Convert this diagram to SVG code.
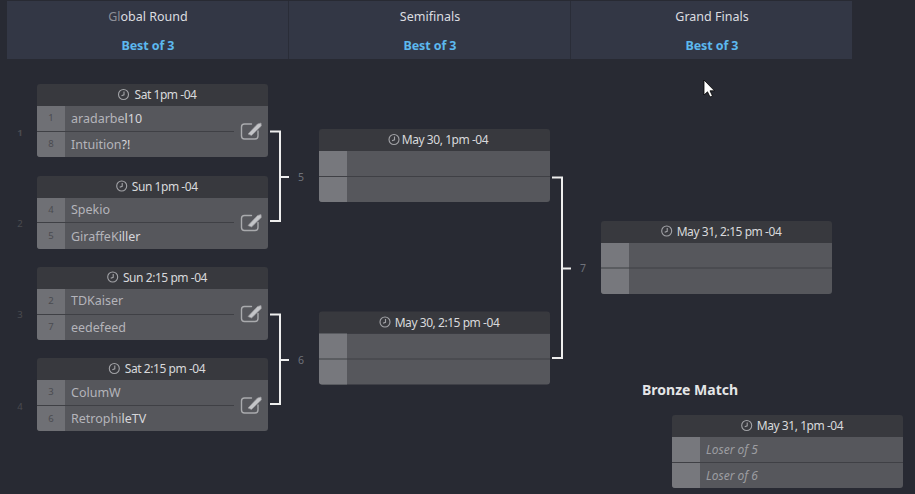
<svg xmlns="http://www.w3.org/2000/svg" width="915" height="494" viewBox="0 0 915 494">
<style>
text{font-family:"Noto Sans","Open Sans","Liberation Sans",sans-serif}
.rt{font-size:12.5px;fill:#dcdde0;text-anchor:middle}
.bo{font-size:12.5px;font-weight:700;fill:#5cb8ee;text-anchor:middle;letter-spacing:-.1px}
.ht{font-size:12px;fill:#d8d9dc;text-anchor:middle;letter-spacing:-.45px}
.nm{font-size:12.5px;fill:#d6d6da}
.fade{fill:#b4b4ba}
.sd{font-size:9.5px;fill:#4a4b50;text-anchor:middle}
.ml{font-size:10.5px;fill:#6f727a;text-anchor:middle}
.ls{font-size:12px;font-style:italic;fill:#9c9da1}
.hd{fill:#38393e}.bd{fill:#56575c}.sb{fill:#6f7075}.sb2{fill:#77787d}.ln{stroke:#3f4045;stroke-width:1.2;fill:none}
.con{stroke:#eeeeee;stroke-width:2;fill:none}
.ck{fill:none;stroke:#a2a3a7;stroke-width:1.1}
.ed{fill:none;stroke:#a9aaad;stroke-width:1.4;stroke-linecap:round;stroke-linejoin:round}
</style>
<defs>
<g id="clock"><circle r="5" class="ck"/><path d="M0.500-3V0.300L-2 1.300" class="ck"/></g>
<g id="edit"><path d="M11 2.500H4Q1 2.500 1 5.500V14.500Q1 17.500 4 17.500H14.500Q17.500 17.500 17.500 14.500V9.500" class="ed"/><path d="M7.500 12.500L17 2.500L20.500 1.500L20.800 4.500L11 14Z" fill="#c4c5c8" stroke="#96979b" stroke-width="0.700" stroke-linejoin="round"/></g>
<g id="card">
<path class="bd" d="M0 22H231V70a3 3 0 0 1-3 3H3a3 3 0 0 1-3-3Z"/>
<path class="hd" d="M3 0H228a3 3 0 0 1 3 3V22H0V3a3 3 0 0 1 3-3Z"/>
</g>
<path id="side" class="sb" d="M0 22H28V73H3a3 3 0 0 1-3-3Z"/>
<path id="side2" class="sb2" d="M0 22H28V73H3a3 3 0 0 1-3-3Z"/>
</defs>
<rect width="915" height="494" fill="#282a33"/>

<g id="round-header">
<rect x="7" y="1" width="845" height="58" fill="#333745"/>
<path d="M288.500 1V59M570.500 1V59" stroke="#2a2d38" stroke-width="1"/>
<text class="rt" x="148" y="21"><tspan fill="#8d8f98">Gl</tspan>obal Round</text><text class="bo" x="148" y="50">Best of 3</text>
<text class="rt" x="430" y="21">Semifinals</text><text class="bo" x="430" y="50">Best of 3</text>
<text class="rt" x="712" y="21">Grand Finals</text><text class="bo" x="712" y="50">Best of 3</text>
</g>

<g id="connectors">
<path class="con" d="M270 131.500H280V221H270M280 177H289"/>
<path class="con" d="M270 314.500H280V404H270M280 360H289"/>
<path class="con" d="M552 177.500H562V358H552M562 268.500H571"/>
</g>
<g id="connector-labels">
<text class="sd" x="20" y="136" font-weight="700">1</text>
<text class="sd" x="20" y="227">2</text>
<text class="sd" x="20" y="318">3</text>
<text class="sd" x="20" y="410">4</text>
<text class="ml" x="301" y="181">5</text>
<text class="ml" x="301" y="364">6</text>
<text class="ml" x="583" y="272">7</text>
</g>

<g id="match-1" transform="translate(37 84)"><use href="#card"/><use href="#side"/><path class="ln" d="M0 47.500H197"/>
<use href="#clock" x="86.500" y="10.500"/><text class="ht" x="128.500" y="15">Sat 1pm -04</text>
<text class="sd" x="14" y="37">1</text><text class="sd" x="14" y="63">8</text>
<text class="nm" x="34" y="38.500"><tspan class="fade">aradarbe</tspan>l10</text><text class="nm" x="34" y="65"><tspan class="fade">Intuition</tspan>?!</text>
<use href="#edit" x="203.500" y="37.500"/></g>

<g id="match-2" transform="translate(37 176)"><use href="#card"/><use href="#side"/><path class="ln" d="M0 46.500H197"/>
<use href="#clock" x="84.700" y="10"/><text class="ht" x="127.700" y="14.500">Sun 1pm -04</text>
<text class="sd" x="14" y="37">4</text><text class="sd" x="14" y="63">5</text>
<text class="nm" x="34" y="38"><tspan class="fade">Spekio</tspan></text><text class="nm" x="34" y="65"><tspan class="fade">GiraffeK</tspan>iller</text>
<use href="#edit" x="203.500" y="37"/></g>

<g id="match-3" transform="translate(37 267)"><use href="#card"/><use href="#side"/><path class="ln" d="M0 47.500H197"/>
<use href="#clock" x="75.700" y="10"/><text class="ht" x="128" y="14.500">Sun 2:15 pm -04</text>
<text class="sd" x="14" y="37">2</text><text class="sd" x="14" y="63">7</text>
<text class="nm" x="34" y="38"><tspan class="fade">TDKaiser</tspan></text><text class="nm" x="34" y="65"><tspan class="fade">eedefeed</tspan></text>
<use href="#edit" x="203.500" y="37"/></g>

<g id="match-4" transform="translate(37 358)"><use href="#card"/><use href="#side"/><path class="ln" d="M0 47.500H197"/>
<use href="#clock" x="77.300" y="10.500"/><text class="ht" x="128" y="15">Sat 2:15 pm -04</text>
<text class="sd" x="14" y="37">3</text><text class="sd" x="14" y="64">6</text>
<text class="nm" x="34" y="38.500"><tspan class="fade">ColumW</tspan></text><text class="nm" x="34" y="65"><tspan class="fade">Retrophi</tspan>leTV</text>
<use href="#edit" x="203.500" y="37.500"/></g>

<g id="match-5" transform="translate(319 129)"><use href="#card"/><use href="#side2"/><path class="ln" d="M0 47.500H231"/>
<use href="#clock" x="75" y="10.500"/><text class="ht" x="126" y="15">May 30, 1pm -04</text></g>

<g id="match-6" transform="translate(319 311.500)"><use href="#card"/><use href="#side2"/><path class="ln" d="M0 47.500H231"/>
<use href="#clock" x="66" y="10.500"/><text class="ht" x="128" y="15">May 30, 2:15 pm -04</text></g>

<g id="match-7" transform="translate(601 221)"><use href="#card"/><use href="#side2"/><path class="ln" d="M0 47H231"/>
<use href="#clock" x="65.700" y="10"/><text class="ht" x="128" y="15">May 31, 2:15 pm -04</text></g>

<g id="bronze-title"><text x="642" y="395" font-size="14" font-weight="700" fill="#e4e5e7">Bronze Match</text></g>
<g id="match-bronze" transform="translate(672 415)"><use href="#card"/><use href="#side2"/><path class="ln" d="M0 47.500H231"/>
<use href="#clock" x="74.700" y="10.500"/><text class="ht" x="128" y="15">May 31, 1pm -04</text>
<text class="ls" x="34" y="38.500">Loser of 5</text><text class="ls" x="34" y="65">Loser of 6</text></g>

<path id="cursor" d="M704 80V95L707.500 91.800L710 97L712.500 96L710 90.800H714.500Z" fill="#fff" stroke="#000" stroke-width="0.800"/>
</svg>
